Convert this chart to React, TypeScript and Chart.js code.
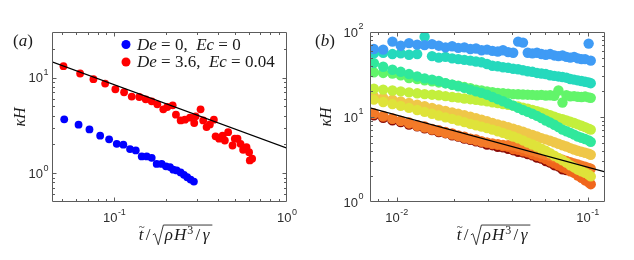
import React, { useEffect, useRef } from "react";
import { Chart, registerables } from "chart.js";

Chart.register(...registerables);

// ================= Panel (a) data =================
const A_BLUE_T = [0.0512, 0.062, 0.0717, 0.0827, 0.0932, 0.1032, 0.1127, 0.1232, 0.133, 0.144, 0.1539, 0.1645, 0.1758, 0.1879, 0.199, 0.2099, 0.2193, 0.2295, 0.242, 0.2529, 0.2642, 0.2764, 0.2888];
const A_BLUE_K = [3.66, 3.22, 2.87, 2.47, 2.26, 2.03, 1.99, 1.79, 1.73, 1.5, 1.5, 1.45, 1.25, 1.25, 1.18, 1.16, 1.09, 1.07, 1.02, 0.962, 0.908, 0.859, 0.818];
const A_RED_T = [0.0507, 0.0633, 0.0756, 0.0884, 0.1013, 0.1138, 0.126, 0.1394, 0.1519, 0.1645, 0.1773, 0.192, 0.2025, 0.2176, 0.2273, 0.242, 0.2563, 0.2739, 0.29, 0.2954, 0.3157, 0.327, 0.342, 0.3574, 0.377, 0.3857, 0.4046, 0.4234, 0.4364, 0.456, 0.4834, 0.4985, 0.5169, 0.5379, 0.5568, 0.5826, 0.6031, 0.6088, 0.628];
const A_RED_K = [13.17, 11.04, 9.62, 8.67, 7.56, 7.03, 6.34, 6.27, 5.93, 5.65, 5.26, 4.66, 4.93, 5.13, 4.1, 3.57, 3.63, 3.81, 3.35, 3.94, 4.66, 3.57, 3.04, 3.24, 3.63, 2.43, 2.3, 2.47, 2.2, 2.69, 1.95, 2.3, 2.3, 2.03, 1.76, 1.87, 1.66, 1.36, 1.42];
const A_FIT_T = [0.0435, 1];
const A_FIT_K = [14.6, 1.83];
const A_X_RANGE = [0.0435, 1];
const A_Y_RANGE = [0.5, 30];
const A_LEGEND_BLUE = "De = 0,  Ec = 0";
const A_LEGEND_RED = "De = 3.6,  Ec = 0.04";

// ================= Panel (b) data =================
const B_T = [0.0076, 0.0085, 0.0095, 0.0105, 0.0116, 0.0128, 0.014, 0.0153, 0.0166, 0.018, 0.0195, 0.021, 0.0226, 0.0243, 0.026, 0.0278, 0.0297, 0.0317, 0.0338, 0.036, 0.0383, 0.0407, 0.0432, 0.0458, 0.0485, 0.0513, 0.0542, 0.0572, 0.0603, 0.0635, 0.0668, 0.0702, 0.0737, 0.0773, 0.081, 0.0848, 0.0887, 0.0927, 0.0968, 0.101, 0.1036];
const B_BLUE = [63, 62, 77, 69, 74, 71, 70, 72, 69, 66, 68, 65, 66, 63, 64, 61, 62, 60, 59, 61, 58, 57, 77, 75, 57, 56, 57, 55, 54, 55, 53, 52, 53, 51, 50, 51, 49, 48, 48, 73, 46];
const B_CYAN = [56, 57, 55, 56, 54, 55, 88, 52, 50, 51, 49, 48, 47, 46, 45, 44, 42, 40, 39.5, 38.5, 38, 37, 36.5, 35.5, 34.5, 34, 33, 32.5, 32, 31, 30.5, 30, 29.5, 29, 28, 27.5, 27, 26.5, 26, 25.5, 25];
const B_TEAL = [43, 39, 36, 34, 32, 30, 28.5, 27.5, 26.5, 25, 24, 23, 22, 21, 20, 19.2, 18.3, 17.2, 16.2, 15.3, 14.4, 13.6, 12.8, 12.1, 11.5, 10.9, 10.3, 9.7, 9.1, 8.6, 8.1, 7.6, 7.1, 6.8, 6.5, 6.2, 5.9, 5.7, 5.5, 5.3, 5.1];
const B_GREEN = [33.5, 33, 32.5, 31, 28.7, 28, 27, 26.3, 25.5, 25, 24, 23.3, 22.5, 21.8, 21, 20.5, 20, 19.6, 19.2, 19, 18.8, 18.6, 18.5, 18.4, 18.3, 18.2, 18, 18.2, 17.9, 18, 17.8, 20.5, 14.8, 18, 17.5, 17.6, 17.3, 17.2, 17.4, 17, 16.8];
const B_YGREEN = [21.5, 21, 20.5, 20, 19.5, 19, 18.6, 18.3, 18, 17.6, 17.2, 16.9, 16.5, 16.2, 15.9, 15.6, 15.3, 14.9, 14.6, 14.2, 13.9, 13.6, 13.3, 12.9, 12.5, 12.1, 11.7, 11.3, 10.9, 10.5, 10.1, 9.7, 9.4, 9.1, 8.8, 8.5, 8.2, 7.9, 7.6, 7.3, 7.1];
const B_LIME = [16, 15, 14.2, 13.5, 12.8, 12.1, 11.5, 10.9, 10.4, 9.9, 9.5, 9.1, 8.7, 8.3, 8, 7.7, 7.4, 7.1, 6.8, 6.5, 6.2, 5.9, 5.6, 5.3, 5, 4.75, 4.5, 4.25, 4, 3.75, 3.5, 3.3, 3.1, 2.9, 2.7, 2.55, 2.4, 2.3, 2.2, 2.1, 2];
const B_YELLOW = [17.5, 16.8, 16, 15.2, 14.6, 14, 13.4, 12.8, 12.3, 11.8, 11.3, 10.9, 10.5, 10.1, 9.7, 9.3, 8.9, 8.5, 8.2, 7.9, 7.6, 7.3, 7, 6.7, 6.4, 6.15, 5.9, 5.65, 5.45, 5.25, 5.05, 4.85, 4.65, 4.5, 4.3, 4.15, 4, 3.9, 3.8, 3.7, 3.6];
const B_ORANGE = [10.9, 10.3, 9.5, 9, 8.4, 7.9, 7.5, 7.1, 6.8, 6.5, 6.2, 5.95, 5.7, 5.5, 5.3, 5.15, 5, 4.9, 4.8, 4.7, 4.65, 4.6, 4.45, 4.3, 4.15, 4, 3.85, 3.72, 3.6, 3.48, 3.36, 3.25, 3.14, 3.04, 2.94, 2.85, 2.76, 2.67, 2.6, 2.52, 2.46];
const B_REDORANGE = [11, 10.1, 9.6, 9, 8.6, 8, 7.75, 7.25, 7, 6.65, 6.4, 6.05, 5.85, 5.55, 5.45, 5.15, 5, 4.8, 4.7, 4.55, 4.45, 4.2, 4.1, 3.95, 3.85, 3.65, 3.5, 3.35, 3.2, 3, 2.85, 2.7, 2.55, 2.45, 2.3, 2.2, 2.05, 1.93, 1.8, 1.7, 1.62];
const B_DARKRED = [10.45, 9.8, 9.12, 8.73, 8.17, 7.76, 7.36, 7.03, 6.65, 6.45, 6.08, 5.87, 5.56, 5.38, 5.18, 5.0, 4.75, 4.66, 4.47, 4.41, 4.23, 4.07, 3.9, 3.83, 3.66, 3.54, 3.33, 3.25, 3.04, 2.91, 2.71, 2.62, 2.42, 2.38];
const B_FIT_T = [0.00725, 0.123];
const B_FIT_K = [12.8, 2.26];
const B_X_RANGE = [0.00725, 0.123];
const B_Y_RANGE = [1, 100];

// ================= styling =================
const AXIS_COLOR = "#5c5c5c";
const LABEL_COLOR = "#2e2e2e";
const SANS = '"Liberation Sans", Arial, sans-serif';
const SERIF = '"Liberation Serif", "Times New Roman", serif';
const H = 260;

type Seg = [string, "i" | "r"];

const pts = (t: number[], k: number[]) => k.map((y, i) => ({ x: t[i], y }));

function logTicks(min: number, max: number) {
  const out: { v: number; major: boolean; e: number }[] = [];
  const e0 = Math.floor(Math.log10(min) + 1e-9);
  const e1 = Math.floor(Math.log10(max) + 1e-9);
  for (let e = e0; e <= e1; e++) {
    for (let m = 1; m <= 9; m++) {
      const v = m * Math.pow(10, e);
      if (v >= min * (1 - 1e-9) && v <= max * (1 + 1e-9)) out.push({ v, major: m === 1, e });
    }
  }
  return out;
}

function drawSegs(ctx: CanvasRenderingContext2D, segs: Seg[], x: number, y: number, size: number) {
  let cx = x;
  for (const [t, s] of segs) {
    ctx.font = `${s === "i" ? "italic " : ""}${size}px ${SERIF}`;
    ctx.fillText(t, cx, y);
    cx += ctx.measureText(t).width;
  }
  return cx;
}
function segsWidth(ctx: CanvasRenderingContext2D, segs: Seg[], size: number) {
  let w = 0;
  for (const [t, s] of segs) {
    ctx.font = `${s === "i" ? "italic " : ""}${size}px ${SERIF}`;
    w += ctx.measureText(t).width;
  }
  return w;
}
// italic letters, roman digits / symbols
function mathSegs(text: string): Seg[] {
  const out: Seg[] = [];
  const re = /([A-Za-z]+)|([^A-Za-z]+)/g;
  let m: RegExpExecArray | null;
  while ((m = re.exec(text))) out.push([m[0], m[1] ? "i" : "r"]);
  return out;
}

function drawPow(ctx: CanvasRenderingContext2D, e: number, x: number, y: number, align: "center" | "right") {
  ctx.textAlign = "left";
  ctx.textBaseline = "middle";
  ctx.font = `13px ${SANS}`;
  const w10 = ctx.measureText("10").width;
  ctx.font = `9px ${SANS}`;
  const es = String(e);
  const we = ctx.measureText(es).width;
  const total = w10 + 0.5 + we;
  const x0 = align === "center" ? x - total / 2 : x - total;
  ctx.font = `13px ${SANS}`;
  ctx.fillText("10", x0, y);
  ctx.font = `9px ${SANS}`;
  ctx.fillText(es, x0 + w10 + 0.5, y - 6);
}

function drawXTitle(ctx: CanvasRenderingContext2D, cx: number, base: number, s: number) {
  const it = `italic ${s}px ${SERIF}`;
  const rm = `${s}px ${SERIF}`;
  const sm = `${Math.round(s * 0.68)}px ${SERIF}`;
  ctx.textAlign = "left";
  ctx.textBaseline = "alphabetic";
  const mw = (f: string, t: string) => { ctx.font = f; return ctx.measureText(t).width; };
  const wt = mw(it, "t"), ws = mw(rm, "/"), wr0 = mw(it, "\u03C1"), wh = mw(it, "H"), w3 = mw(sm, "3"), wg = mw(it, "\u03B3");
  const wr = s * 0.7, gap = s * 0.14;
  const total = wt + gap + ws + gap + wr + wr0 + 1 + wh + 1 + w3 + gap + ws + gap + wg + 3;
  let x = cx - total / 2;
  ctx.font = it;
  ctx.fillText("t", x, base);
  ctx.font = `${Math.round(s * 0.62)}px ${SERIF}`;
  ctx.fillText("~", x + wt * 0.05, base - s * 0.58);
  x += wt + gap;
  ctx.font = rm;
  ctx.fillText("/", x, base);
  x += ws + gap;
  const top = base - s * 0.88;
  ctx.beginPath();
  ctx.moveTo(x, base - s * 0.3);
  ctx.lineTo(x + s * 0.12, base - s * 0.37);
  ctx.lineTo(x + s * 0.32, base + s * 0.28);
  ctx.lineTo(x + s * 0.62, top);
  x += wr;
  ctx.font = it;
  ctx.fillText("\u03C1", x, base);
  x += wr0 + 1;
  ctx.fillText("H", x, base);
  x += wh + 1;
  ctx.font = sm;
  ctx.fillText("3", x, base - s * 0.38);
  x += w3 + gap;
  ctx.font = rm;
  ctx.fillText("/", x, base);
  x += ws + gap;
  ctx.font = it;
  ctx.fillText("\u03B3", x, base);
  x += wg + 3;
  ctx.lineTo(x, top);
  ctx.lineWidth = 0.9;
  ctx.strokeStyle = "#222";
  ctx.stroke();
}

interface PanelSpec {
  w: number;
  area: { left: number; top: number; right: number; bottom: number };
  xr: number[];
  yr: number[];
  datasets: any[];
  letter: string;
  letterX: number;
  yTitleX: number;
  yLabelGap: number;
  legend?: { color: string; text: string }[];
}

function makeDecor(p: PanelSpec) {
  return {
    id: "decor",
    afterDraw(chart: any) {
      const { ctx, chartArea: a, scales } = chart;
      const xs = scales.x, ys = scales.y;
      const L = Math.round(a.left) + 0.5, R = Math.round(a.right) - 0.5;
      const T = Math.round(a.top) + 0.5, B = Math.round(a.bottom) - 0.5;
      ctx.save();
      ctx.strokeStyle = AXIS_COLOR;
      ctx.lineWidth = 1;
      ctx.beginPath();
      ctx.rect(L, T, R - L, B - T);
      const xt = logTicks(xs.min, xs.max);
      const yt = logTicks(ys.min, ys.max);
      for (const t of xt) {
        const px = Math.round(xs.getPixelForValue(t.v)) + 0.5;
        if (px <= L + 1 || px >= R - 1) continue;
        const len = t.major ? 4 : 2.5;
        ctx.moveTo(px, B); ctx.lineTo(px, B - len);
        ctx.moveTo(px, T); ctx.lineTo(px, T + len);
      }
      for (const t of yt) {
        const py = Math.round(ys.getPixelForValue(t.v)) + 0.5;
        if (py <= T + 1 || py >= B - 1) continue;
        const len = t.major ? 4 : 2.5;
        ctx.moveTo(L, py); ctx.lineTo(L + len, py);
        ctx.moveTo(R, py); ctx.lineTo(R - len, py);
      }
      ctx.stroke();

      ctx.fillStyle = LABEL_COLOR;
      for (const t of xt) if (t.major) drawPow(ctx, t.e, xs.getPixelForValue(t.v), B + 17, "center");
      for (const t of yt) if (t.major) drawPow(ctx, t.e, L - p.yLabelGap, ys.getPixelForValue(t.v) + 1, "right");

      // axis titles
      ctx.fillStyle = "#1a1a1a";
      drawXTitle(ctx, (a.left + a.right) / 2 + 6, 240, 17);
      ctx.save();
      ctx.translate(p.yTitleX, (a.top + a.bottom) / 2);
      ctx.rotate(-Math.PI / 2);
      ctx.textBaseline = "middle";
      ctx.textAlign = "left";
      const ySegs: Seg[] = [["\u03BA", "i"], ["H", "i"]];
      drawSegs(ctx, ySegs, -segsWidth(ctx, ySegs, 16) / 2, 0, 16);
      ctx.restore();

      // panel letter
      ctx.textBaseline = "middle";
      ctx.textAlign = "left";
      drawSegs(ctx, [["(", "r"], [p.letter, "i"], [")", "r"]], p.letterX, 42, 17);

      // legend
      if (p.legend) {
        p.legend.forEach((item, i) => {
          const y = 44.5 + i * 17.5;
          ctx.beginPath();
          ctx.fillStyle = item.color;
          ctx.arc(126, y, 4.5, 0, Math.PI * 2);
          ctx.fill();
          ctx.fillStyle = "#1a1a1a";
          drawSegs(ctx, mathSegs(item.text), 137, y + 1, 17);
        });
      }
      ctx.restore();
    },
  };
}

function buildConfig(p: PanelSpec): any {
  return {
    type: "scatter",
    data: { datasets: p.datasets },
    options: {
      responsive: false,
      maintainAspectRatio: false,
      animation: false,
      events: [],
      layout: { padding: { left: 0, top: p.area.top, right: p.w - p.area.right, bottom: 0 } },
      plugins: { legend: { display: false }, tooltip: { enabled: false } },
      scales: {
        x: {
          type: "logarithmic", min: p.xr[0], max: p.xr[1],
          grid: { display: false }, border: { display: false }, ticks: { display: false },
          afterFit: (s: any) => { s.height = H - p.area.bottom; },
        },
        y: {
          type: "logarithmic", min: p.yr[0], max: p.yr[1],
          grid: { display: false }, border: { display: false }, ticks: { display: false },
          afterFit: (s: any) => { s.width = p.area.left; },
        },
      },
    },
    plugins: [makeDecor(p)],
  };
}

const fitDs = (t: number[], k: number[]) => ({
  label: "fit", data: pts(t, k), showLine: true, borderColor: "#000", borderWidth: 1.2,
  pointRadius: 0, pointHoverRadius: 0, fill: false,
});
const dotDs = (label: string, t: number[], k: number[], color: string, r: number) => ({
  label, data: pts(t, k), backgroundColor: color, borderColor: color, pointRadius: r,
  pointHoverRadius: r, pointBorderWidth: 0, showLine: false,
});

const SPEC_A: PanelSpec = {
  w: 310,
  area: { left: 52, top: 32, right: 287, bottom: 202 },
  xr: A_X_RANGE,
  yr: A_Y_RANGE,
  datasets: [
    fitDs(A_FIT_T, A_FIT_K),
    dotDs(A_LEGEND_RED, A_RED_T, A_RED_K, "#ff0000", 3.9),
    dotDs(A_LEGEND_BLUE, A_BLUE_T, A_BLUE_K, "#0000ff", 3.9),
  ],
  letter: "a",
  letterX: 13,
  yTitleX: 21,
  yLabelGap: 4,
  legend: [
    { color: "#0000ff", text: A_LEGEND_BLUE },
    { color: "#ff0000", text: A_LEGEND_RED },
  ],
};

const RB = 5.2;
const SPEC_B: PanelSpec = {
  w: 324,
  area: { left: 60, top: 32, right: 295, bottom: 202 },
  xr: B_X_RANGE,
  yr: B_Y_RANGE,
  datasets: [
    fitDs(B_FIT_T, B_FIT_K),
    dotDs("blue", B_T, B_BLUE, "#3f9bf5", RB),
    dotDs("cyan", B_T, B_CYAN, "#25d9bd", RB),
    dotDs("teal", B_T, B_TEAL, "#30e89c", RB),
    dotDs("green", B_T, B_GREEN, "#62f56a", RB),
    dotDs("yellowgreen", B_T, B_YGREEN, "#c3ef3c", RB),
    dotDs("lime", B_T, B_LIME, "#dfe33a", RB),
    dotDs("yellow", B_T, B_YELLOW, "#efc748", RB),
    dotDs("orange", B_T, B_ORANGE, "#f37a28", RB),
    dotDs("redorange", B_T, B_REDORANGE, "#f0661c", RB),
    dotDs("darkred", B_T, B_DARKRED, "#8a0c07", RB),
  ],
  letter: "b",
  letterX: 5,
  yTitleX: 17,
  yLabelGap: 7,
};

function Panel({ spec, left }: { spec: PanelSpec; left: number }) {
  const ref = useRef<HTMLCanvasElement>(null);
  useEffect(() => {
    const chart = new Chart(ref.current as HTMLCanvasElement, buildConfig(spec));
    return () => chart.destroy();
  }, [spec]);
  return (
    <canvas
      ref={ref}
      width={spec.w}
      height={H}
      style={{ position: "absolute", left, top: 0, width: spec.w, height: H }}
    />
  );
}

export default function App() {
  return (
    <div style={{ position: "absolute", left: 0, top: 0, width: 634, height: 260, background: "#fff", overflow: "hidden" }}>
      <Panel spec={SPEC_A} left={0} />
      <Panel spec={SPEC_B} left={310} />
    </div>
  );
}
